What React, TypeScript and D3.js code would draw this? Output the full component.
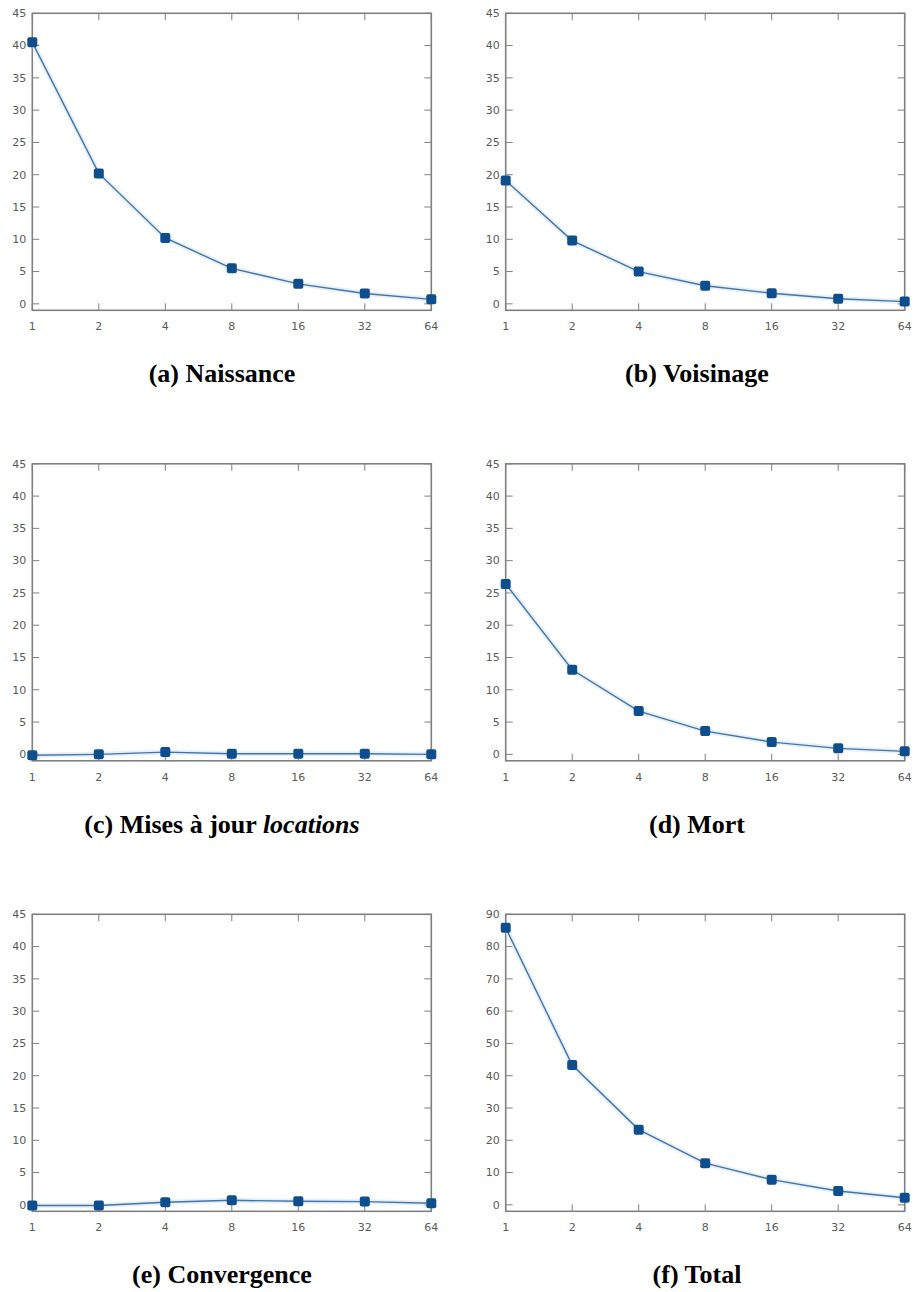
import React from "react";
import * as d3 from "d3";

const X_VALUES = [1, 2, 4, 8, 16, 32, 64];
const NAISSANCE = [40.5, 20.2, 10.2, 5.5, 3.1, 1.6, 0.7];
const VOISINAGE = [19.1, 9.8, 5.0, 2.8, 1.65, 0.8, 0.35];
const LOCATIONS = [-0.15, 0.0, 0.35, 0.1, 0.1, 0.1, 0.0];
const MORT = [26.4, 13.1, 6.7, 3.6, 1.9, 0.93, 0.46];
const CONVERGENCE = [-0.1, -0.1, 0.4, 0.7, 0.55, 0.5, 0.25];
const TOTAL = [85.8, 43.3, 23.3, 12.9, 7.8, 4.3, 2.2];

const Y_TICKS_45 = [0, 5, 10, 15, 20, 25, 30, 35, 40, 45];
const Y_TICKS_90 = [0, 10, 20, 30, 40, 50, 60, 70, 80, 90];

type PanelDef = {
  values: number[];
  domain: [number, number];
  ticks: number[];
  label: string;
  name: string;
  italic?: string;
};

const PANELS: PanelDef[] = [
  { values: NAISSANCE, domain: [-1, 45], ticks: Y_TICKS_45, label: "(a)", name: "Naissance" },
  { values: VOISINAGE, domain: [-1, 45], ticks: Y_TICKS_45, label: "(b)", name: "Voisinage" },
  { values: LOCATIONS, domain: [-1, 45], ticks: Y_TICKS_45, label: "(c)", name: "Mises à jour ", italic: "locations" },
  { values: MORT, domain: [-1, 45], ticks: Y_TICKS_45, label: "(d)", name: "Mort" },
  { values: CONVERGENCE, domain: [-1, 45], ticks: Y_TICKS_45, label: "(e)", name: "Convergence" },
  { values: TOTAL, domain: [-2, 90], ticks: Y_TICKS_90, label: "(f)", name: "Total" },
];

const COL_X = [32.3, 505.7];
const PLOT_W = 399;
const ROW_Y = [13.3, 463.8, 914.3];
const PLOT_H = 297;
const TITLE_X = [222, 697];
const TITLE_DY = 72;
const TICK = 7;

const FRAME = "#808080";
const LABEL = "#5a5a5a";
const LINE = "#4474a3";
const MARK = "#0f4e8c";

function Panel({ def, col, row }: { def: PanelDef; col: number; row: number }) {
  const x0 = COL_X[col];
  const y0 = ROW_Y[row];
  const x = d3.scaleLog().base(2).domain([1, 64]).range([x0, x0 + PLOT_W]);
  const y = d3.scaleLinear().domain(def.domain).range([y0 + PLOT_H, y0]);
  const pts = X_VALUES.map((xv, i) => [x(xv), y(def.values[i])] as [number, number]);
  const line = d3.line()(pts) || "";
  const bottom = y0 + PLOT_H;
  const right = x0 + PLOT_W;
  return (
    <g>
      {def.ticks.map((t) => (
        <g key={"y" + t}>
          <line x1={x0} x2={x0 + TICK} y1={y(t)} y2={y(t)} stroke={FRAME} strokeWidth={1} />
          <line x1={right} x2={right - TICK} y1={y(t)} y2={y(t)} stroke={FRAME} strokeWidth={1} />
          <text x={x0 - 6} y={y(t)} dy="0.35em" textAnchor="end" fontSize={11} fill={LABEL}
            fontFamily="DejaVu Sans">{t}</text>
        </g>
      ))}
      {X_VALUES.map((t) => (
        <g key={"x" + t}>
          <line x1={x(t)} x2={x(t)} y1={y0} y2={y0 + TICK} stroke={FRAME} strokeWidth={1} />
          <line x1={x(t)} x2={x(t)} y1={bottom} y2={bottom - TICK} stroke={FRAME} strokeWidth={1} />
          <text x={x(t)} y={bottom + 16} dy="0.35em" textAnchor="middle" fontSize={11} fill={LABEL}
            fontFamily="DejaVu Sans">{t}</text>
        </g>
      ))}
      <rect x={x0} y={y0} width={PLOT_W} height={PLOT_H} fill="none" stroke={FRAME} strokeWidth={1.6} />
      <path d={line} fill="none" stroke="#d3e6f7" strokeWidth={5} strokeOpacity={0.6} />
      <path d={line} fill="none" stroke={LINE} strokeWidth={1.4} />
      {pts.map((p, i) => (
        <rect key={i} x={p[0] - 5} y={p[1] - 5} width={10} height={10} rx={2} fill={MARK} />
      ))}
      <text x={TITLE_X[col]} y={bottom + TITLE_DY} textAnchor="middle" fontSize={26} fontWeight="bold"
        fontFamily="Liberation Serif" fill="#000">
        {def.label + " " + def.name}
        {def.italic ? <tspan fontStyle="italic">{def.italic}</tspan> : null}
      </text>
    </g>
  );
}

export default function App() {
  return (
    <svg width={916} height={1292} style={{ position: "absolute", left: 0, top: 0, background: "#fff" }}>
      <rect x={0} y={0} width={916} height={1292} fill="#fff" />
      {PANELS.map((def, i) => (
        <Panel key={i} def={def} col={i % 2} row={Math.floor(i / 2)} />
      ))}
    </svg>
  );
}
